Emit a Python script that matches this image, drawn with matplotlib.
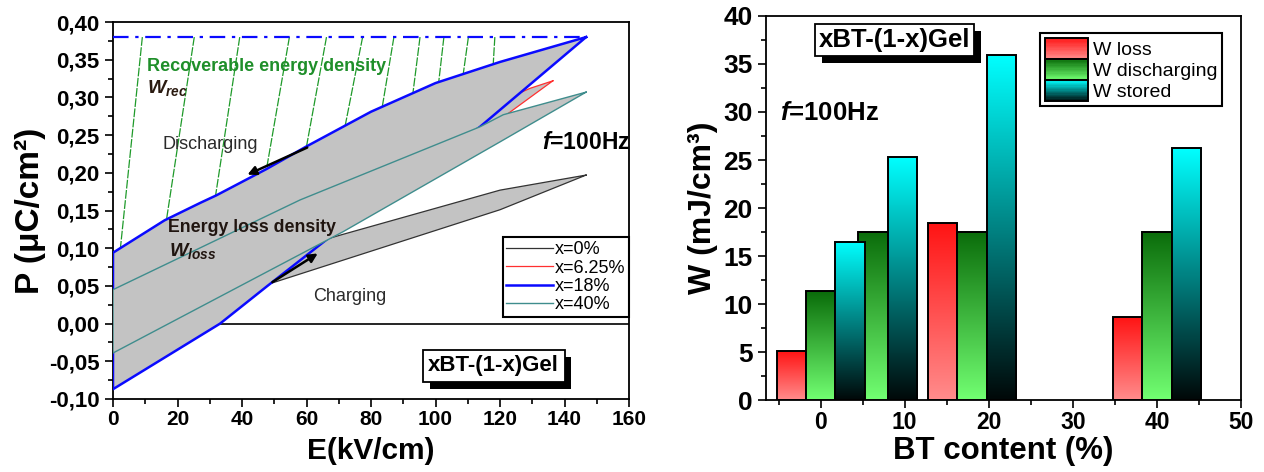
import numpy as np
import matplotlib
matplotlib.use('Agg')
import matplotlib.pyplot as plt
from matplotlib.colors import LinearSegmentedColormap, to_rgb
from matplotlib.legend_handler import HandlerBase
from matplotlib.patches import Rectangle
from matplotlib.ticker import MultipleLocator, FuncFormatter
import matplotlib.patheffects as pe

plt.rcParams['font.family'] = ['Liberation Sans', 'DejaVu Sans']
plt.rcParams['mathtext.fontset'] = 'custom'
plt.rcParams['mathtext.rm'] = 'Liberation Sans:bold'
plt.rcParams['mathtext.it'] = 'Liberation Sans:italic:bold'
plt.rcParams['mathtext.bf'] = 'Liberation Sans:bold'

# ---- left panel: P-E loops ----
# x = 0 %
e0_up = [0, 71, 120, 146.7]
p0_up = [0.030, 0.118, 0.177, 0.197]
e0_lo = [0, 48.7, 120, 146.7]
p0_lo = [-0.025, 0.053, 0.151, 0.197]
# x = 6.25 %
e6_up = [0, 60, 129.3, 136.4]
p6_up = [0.060, 0.180, 0.312, 0.322]
e6_lo = [0, 60, 122, 136.4]
p6_lo = [-0.050, 0.110, 0.277, 0.322]
# x = 18 %
e18_up = [0, 16, 27, 32, 47.6, 60, 80, 100, 120, 146.7]
p18_up = [0.094, 0.137, 0.160, 0.170, 0.205, 0.235, 0.281, 0.319, 0.347, 0.380]
e18_lo = [0, 33.2, 47.6, 67.3, 113.8, 146.7]
p18_lo = [-0.087, 0.0, 0.049, 0.115, 0.261, 0.380]
# x = 40 %
e40_up = [0, 58, 113.8, 121, 146.7]
p40_up = [0.045, 0.164, 0.261, 0.277, 0.307]
e40_lo = [0, 71.4, 120, 146.7]
p40_lo = [-0.039, 0.122, 0.241, 0.307]

# hatch lines of the recoverable energy area (top E at Pmax, bottom E on branch)
hatch_top = [9.1, 25.2, 39.3, 54.7, 66.2, 77.4, 87.1, 95.2, 102.6, 110.2, 118.4]
hatch_bot = [2.3, 16.6, 31.8, 47.6, 60.0, 72.0, 83.5, 93.0, 101.0, 108.6, 117.9]

arrow_dis = [(61.0, 0.235), (40.9, 0.196)]
arrow_ch = [(48.7, 0.053), (64.2, 0.095)]

# ---- right panel: energy densities ----
bt = [0, 6.25, 18, 40]
w_loss = [5.1, 9.0, 18.4, 8.6]
w_dis = [11.35, 17.5, 17.5, 17.5]
w_sto = [16.5, 25.3, 35.9, 26.2]

fig = plt.figure(figsize=(12.64, 4.72), dpi=100)
ax1 = fig.add_axes([113 / 1264, 73 / 472, 516 / 1264, 377 / 472])
ax2 = fig.add_axes([766 / 1264, 72 / 472, 475 / 1264, 384 / 472])

ax1.axhline(0, color='black', lw=1.2, zorder=1)

loops = [
    (e0_up, p0_up, e0_lo, p0_lo, '#333333', 0.9, 'x=0%'),
    (e6_up, p6_up, e6_lo, p6_lo, '#ff3030', 0.9, 'x=6.25%'),
    (e18_up, p18_up, e18_lo, p18_lo, '#0a0aff', 1.8, 'x=18%'),
    (e40_up, p40_up, e40_lo, p40_lo, '#3f8d8d', 1.0, 'x=40%'),
]
handles = []
for i, (eu, pu, el, pl, c, lw, lab) in enumerate(loops):
    E = np.r_[el[::-1], eu]
    P = np.r_[pl[::-1], pu]
    z = 2 + i
    ax1.fill(E, P, color='#c3c3c3', lw=0, zorder=z)
    h, = ax1.plot(E, P, color=c, lw=lw, zorder=z + 0.5, label=lab)
    handles.append(h)

pmax = p18_up[-1]
ax1.hlines(pmax, 0, e18_up[-1], colors='#0a0aff', lw=1.6,
           linestyles=(0, (7, 3, 1.5, 3)), zorder=8)
for et, eb in zip(hatch_top, hatch_bot):
    ax1.plot([et, eb], [pmax, np.interp(eb, e18_up, p18_up)],
             color='#1f9a2a', lw=0.9, ls=(0, (7, 1.2)), zorder=1.5)

for a in (arrow_dis, arrow_ch):
    ax1.annotate('', xy=a[1], xytext=a[0], zorder=9,
                 arrowprops=dict(arrowstyle='-|>', color='black', lw=1.8,
                                 mutation_scale=13))

ax1.text(10.4, 0.341, 'Recoverable energy density', color='#1f8f2a',
         fontsize=13, fontweight='bold', va='center', zorder=10)
ax1.text(10.6, 0.312, r'$W_{rec}$', color='#2a1a10', fontsize=14,
         va='center', zorder=10)
ax1.text(15.5, 0.238, 'Discharging', color='#2a2a2a', fontsize=13,
         va='center', zorder=10)
ax1.text(17.1, 0.127, 'Energy loss density', color='#201510', fontsize=12.8,
         fontweight='bold', va='center', zorder=10)
ax1.text(17.4, 0.096, r'$W_{loss}$', color='#201510', fontsize=14,
         va='center', zorder=10)
ax1.text(62, 0.036, 'Charging', color='#2a2a2a', fontsize=13,
         va='center', zorder=10)
ax1.text(133, 0.24, r'$f$=100Hz', fontsize=16.5, fontweight='bold',
         va='center', zorder=10)

t1 = ax1.text(118, -0.056, 'xBT-(1-x)Gel', fontsize=16, fontweight='bold',
              ha='center', va='center', zorder=10,
              bbox=dict(boxstyle='square,pad=0.25', fc='white', ec='black', lw=1.3))
t1.get_bbox_patch().set_path_effects(
    [pe.SimplePatchShadow(offset=(5, -5), shadow_rgbFace='black', alpha=1), pe.Normal()])

leg1 = ax1.legend(handles=handles, loc='lower right', bbox_to_anchor=(1.0, 0.2175),
                  borderaxespad=0, fontsize=13, handlelength=2.6,
                  handletextpad=0.1, labelspacing=0.08, borderpad=0.2,
                  fancybox=False, framealpha=1, edgecolor='black')
leg1.get_frame().set_linewidth(1.5)
leg1.set_zorder(12)

ax1.set_xlim(0, 160)
ax1.set_ylim(-0.10, 0.40)
ax1.xaxis.set_major_locator(MultipleLocator(20))
ax1.xaxis.set_minor_locator(MultipleLocator(10))
ax1.yaxis.set_major_locator(MultipleLocator(0.05))
ax1.yaxis.set_minor_locator(MultipleLocator(0.025))
ax1.yaxis.set_major_formatter(FuncFormatter(lambda v, p: f'{v:.2f}'.replace('.', ',')))
ax1.set_xlabel('E(kV/cm)', fontsize=21.5, fontweight='bold', labelpad=6)
ax1.set_ylabel('P (μC/cm²)', fontsize=24, fontweight='bold', labelpad=2)

# ---- right panel ----
def grad_bar(ax, x, h, w, top, bot, z):
    cm = LinearSegmentedColormap.from_list('g', [bot, top])
    img = np.linspace(0, 1, 256).reshape(-1, 1)
    ax.imshow(img, extent=[x - w / 2, x + w / 2, 0, h], origin='lower',
              aspect='auto', cmap=cm, zorder=z)
    ax.bar(x, h, w, fc='none', ec='black', lw=1.4, zorder=z + 0.1)

width = 3.5
series = [
    (w_loss, -width, '#ff1414', '#ff8c8c', 'W loss'),
    (w_dis, 0.0, '#0a6c0a', '#72ff72', 'W discharging'),
    (w_sto, width, '#00ffff', '#000808', 'W stored'),
]


class Swatch:
    def __init__(self, top, bot):
        self.top, self.bot = top, bot


class SwatchHandler(HandlerBase):
    def create_artists(self, legend, orig, xd, yd, w, h, fs, trans):
        n = 16
        t, b = np.array(to_rgb(orig.top)), np.array(to_rgb(orig.bot))
        arts = []
        for k in range(n):
            f = (k + 0.5) / n
            arts.append(Rectangle((-xd, -yd + h * k / n), w, h / n * 1.05,
                                  fc=b + (t - b) * f, ec='none', transform=trans))
        arts.append(Rectangle((-xd, -yd), w, h, fc='none', ec='black',
                              lw=1.4, transform=trans))
        return arts


sw = []
for j, (vals, off, top, bot, lab) in enumerate(series):
    for x, v in zip(bt, vals):
        grad_bar(ax2, x + off, v, width, top, bot, 2 + j)
    sw.append(Swatch(top, bot))

ax2.set_xlim(-6.5, 50)
ax2.set_ylim(0, 40)
ax2.xaxis.set_major_locator(MultipleLocator(10))
ax2.xaxis.set_minor_locator(MultipleLocator(5))
ax2.yaxis.set_major_locator(MultipleLocator(5))
ax2.yaxis.set_minor_locator(MultipleLocator(2.5))

leg2 = ax2.legend(sw, [s[4] for s in series], handler_map={Swatch: SwatchHandler()},
                  loc='upper right', bbox_to_anchor=(0.96, 0.956), borderaxespad=0,
                  fontsize=14, handlelength=2.2, handleheight=1.3,
                  handletextpad=0.25, labelspacing=0.0, borderpad=0.25,
                  fancybox=False, framealpha=1, edgecolor='black')
leg2.get_frame().set_linewidth(1.5)
leg2.set_zorder(12)

t2 = ax2.text(8.8, 37.5, 'xBT-(1-x)Gel', fontsize=18.5, fontweight='bold',
              ha='center', va='center', zorder=10,
              bbox=dict(boxstyle='square,pad=0.15', fc='white', ec='black', lw=1.3))
t2.get_bbox_patch().set_path_effects(
    [pe.SimplePatchShadow(offset=(5, -5), shadow_rgbFace='black', alpha=1), pe.Normal()])
ax2.text(-4.8, 29.9, r'$f$=100Hz', fontsize=18.5, fontweight='bold', va='center', zorder=10)

ax2.set_xlabel('BT content (%)', fontsize=22.5, fontweight='bold', labelpad=1)
ax2.set_ylabel('W (mJ/cm³)', fontsize=23, fontweight='bold', labelpad=4)

for ax, fx, fy in ((ax1, 15, 16), (ax2, 16.5, 19)):
    ax.tick_params(which='both', direction='out', top=False, right=False, width=1.2)
    ax.tick_params(which='major', length=6)
    ax.tick_params(axis='x', which='major', labelsize=fx, pad=2)
    ax.tick_params(axis='y', which='major', labelsize=fy)
    ax.tick_params(which='minor', length=3.5)
    for lab in ax.get_xticklabels() + ax.get_yticklabels():
        lab.set_fontweight('bold')
    for s in ax.spines.values():
        s.set_linewidth(1.3)

fig.savefig('out.png', dpi=100)
